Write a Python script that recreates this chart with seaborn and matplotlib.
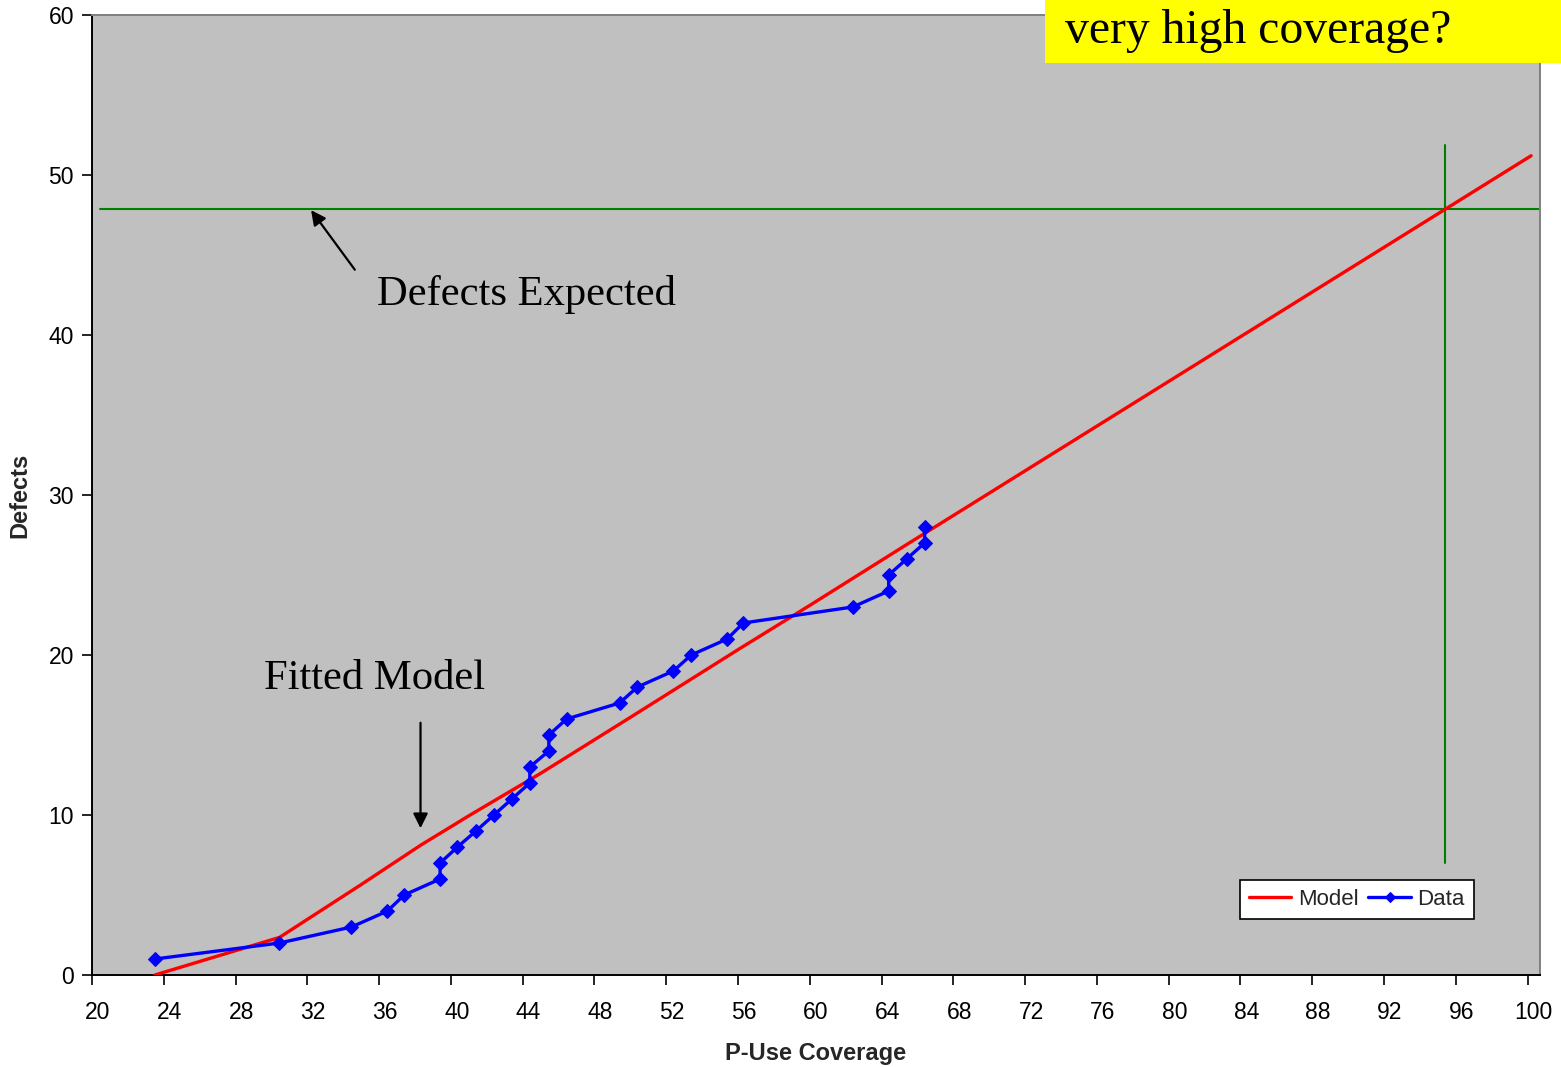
import numpy as np
import pandas as pd
import matplotlib
matplotlib.use('Agg')
import matplotlib.pyplot as plt
import matplotlib.transforms as mtransforms
import seaborn as sns

# Observed data: coverage vs cumulative defects
data_coverage = [23.5, 30.45, 34.46, 36.47, 37.4, 39.4, 39.4, 40.37, 41.4, 42.4,
                 43.4, 44.4, 44.4, 45.46, 45.46, 46.45, 49.4, 50.4, 52.4, 53.4,
                 55.4, 56.3, 62.4, 64.4, 64.4, 65.4, 66.4, 66.4]
data_defects = list(range(1, 29))

# Fitted model curve
model_coverage = [23.5, 30.45, 35.0, 38.3, 41.0, 45.0, 50.0, 56.1, 60.0, 65.4, 100.2]
model_defects = [0.0, 2.35, 5.65, 8.1, 9.95, 12.6, 16.1, 20.4, 23.1, 26.9, 51.2]

expected_defects = 47.9
expected_coverage = 95.4

x_ticks = list(range(20, 101, 4))
y_ticks = list(range(0, 61, 10))

sns.set_style('white')
plt.rcParams['font.family'] = ['Liberation Sans', 'DejaVu Sans']

fig = plt.figure(figsize=(15.61, 10.67), dpi=100)
ax = fig.add_axes([0.0589, 0.0862, 0.9277, 0.8998])
ax.set_facecolor('#C0C0C0')

model_df = pd.DataFrame({'x': model_coverage, 'y': model_defects})
data_df = pd.DataFrame({'x': data_coverage, 'y': data_defects})

sns.lineplot(data=model_df, x='x', y='y', ax=ax, color='#FF0000', linewidth=2.4,
             estimator=None, sort=False, label='Model', zorder=3)
sns.lineplot(data=data_df, x='x', y='y', ax=ax, color='#0000FF', linewidth=2.4,
             estimator=None, sort=False, marker='D', markersize=7,
             markeredgecolor='#0000FF', label='Data', zorder=4)

# expected-defects guide lines
ax.plot([20.47, 100.7], [expected_defects, expected_defects], color='#008000', linewidth=1.5, zorder=2)
ax.plot([expected_coverage, expected_coverage], [7.0, 51.9], color='#008000', linewidth=1.5, zorder=2)

ax.set_xlim(20, 100.7)
ax.set_ylim(0, 60)
ax.set_xticks(x_ticks)
ax.set_yticks(y_ticks)
ax.tick_params(axis='both', direction='out', length=7, width=1.2, labelsize=16.5,
               colors='black', bottom=True, left=True)
ax.tick_params(axis='x', pad=12)
ax.tick_params(axis='y', pad=6)
shift = mtransforms.ScaledTranslation(6 / 100, 0, fig.dpi_scale_trans)
for lbl in ax.get_xticklabels():
    lbl.set_transform(lbl.get_transform() + shift)

ax.set_xlabel('P-Use Coverage', fontsize=17, fontweight='bold', labelpad=13)
ax.set_ylabel('Defects', fontsize=17, fontweight='bold', labelpad=12)

for side in ['left', 'bottom']:
    ax.spines[side].set_color('black')
    ax.spines[side].set_linewidth(1.4)
for side in ['top', 'right']:
    ax.spines[side].set_color('#808080')
    ax.spines[side].set_linewidth(1.4)

serif = ['Liberation Serif', 'DejaVu Serif']
ax.annotate('', xy=(32.12, 47.94), xytext=(34.74, 43.94),
            arrowprops=dict(arrowstyle='-|>', color='black', lw=1.6, mutation_scale=22))
ax.text(35.9, 42.55, 'Defects Expected', fontsize=30.7, family=serif, color='black',
        va='center', ha='left')
ax.annotate('', xy=(38.31, 9.0), xytext=(38.31, 15.94),
            arrowprops=dict(arrowstyle='-|>', color='black', lw=1.6, mutation_scale=22))
ax.text(29.6, 18.5, 'Fitted Model', fontsize=30.7, family=serif, color='black',
        va='center', ha='left')

leg = ax.legend(loc='lower left', bbox_to_anchor=(0.7928, 0.0583), ncol=2, fontsize=16,
                frameon=True, fancybox=False, edgecolor='black', framealpha=1,
                handlelength=1.9, handletextpad=0.3, columnspacing=0.45,
                borderpad=0.4, borderaxespad=0, markerscale=0.8)
leg.get_frame().set_linewidth(1.2)

# yellow callout box at top right
fig.patches.append(plt.Rectangle((1045 / 1561, 1 - 63 / 1067), 516 / 1561, 63 / 1067,
                                 transform=fig.transFigure, facecolor='#FFFF00',
                                 edgecolor='none', zorder=9))
fig.text(1065 / 1561, 1 - 31 / 1067, 'very high coverage?', fontsize=34.3, family=serif,
         color='black', va='center', ha='left', zorder=10)

fig.savefig('out.png', dpi=100)
